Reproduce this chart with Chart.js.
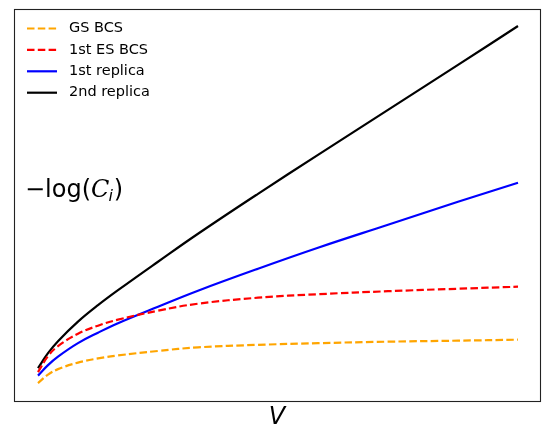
<!DOCTYPE html>
<html>
<head>
<meta charset="utf-8">
<script src="https://cdn.jsdelivr.net/npm/chart.js@4.4.1/dist/chart.umd.min.js"></script>
<style>
  html, body { margin: 0; padding: 0; background: #fff; }
  #wrap { width: 549px; height: 429px; position: relative; }
</style>
</head>
<body>
<div id="wrap"><canvas id="entropyChart" width="549" height="429"></canvas></div>
<script>
// ── Data ──
const volumes   = [2, 3, 4, 6, 8, 10, 14, 18, 24, 30, 37, 44, 50];
const gsBcs     = [1.75, 2.6, 3.15, 3.8, 4.22, 4.52, 4.97, 5.33, 5.58, 5.75, 5.9, 6.0, 6.1];
const es1Bcs    = [2.85, 4.45, 5.45, 6.7, 7.5, 8.1, 9.0, 9.7, 10.3, 10.65, 10.95, 11.2, 11.4];
const replica1  = [2.5, 3.55, 4.4, 5.75, 6.8, 7.75, 9.4, 11.0, 13.2, 15.3, 17.6, 19.9, 21.8];
const replica2  = [3.25, 4.75, 5.95, 7.9, 9.55, 11.05, 13.9, 16.7, 20.7, 24.6, 29.1, 33.6, 37.5];
const seriesLabels = ["GS BCS", "1st ES BCS", "1st replica", "2nd replica"];

const FONT = "'DejaVu Sans', sans-serif";
const DASH = [7.5, 3.3];

function series(label, values, color, dashed) {
  return {
    label,
    data: volumes.map((v, i) => ({ x: v, y: values[i] })),
    borderColor: color,
    borderWidth: 2.2,
    borderDash: dashed ? DASH : [],
    pointRadius: 0,
    tension: 0.4,
    fill: false,
  };
}

// ── Frame, axis titles and in-plot legend ──
const decorations = {
  id: "decorations",
  afterDraw(chart) {
    const { ctx, chartArea: a } = chart;
    ctx.save();
    ctx.strokeStyle = "#222";
    ctx.lineWidth = 1.1;
    ctx.strokeRect(a.left + 0.5, a.top + 0.5, a.right - a.left, a.bottom - a.top);

    // legend
    ctx.textBaseline = "middle";
    ctx.font = `14.5px ${FONT}`;
    chart.data.datasets.forEach((ds, i) => {
      const y = 28.5 + i * 21.4;
      ctx.beginPath();
      ctx.setLineDash(ds.borderDash);
      ctx.strokeStyle = ds.borderColor;
      ctx.lineWidth = ds.borderWidth;
      ctx.moveTo(27, y);
      ctx.lineTo(57, y);
      ctx.stroke();
      ctx.setLineDash([]);
      ctx.fillStyle = "#000";
      ctx.fillText(ds.label, 69, y);
    });

    // y title inside the plot
    ctx.fillStyle = "#000";
    ctx.font = `24px ${FONT}`;
    let x = 25;
    const yMid = 191;
    ctx.fillText("\u2212log(", x, yMid);
    x += ctx.measureText("\u2212log(").width;
    ctx.font = `italic 24px 'DejaVu Serif', serif`;
    ctx.fillText("C", x, yMid);
    x += ctx.measureText("C").width;
    ctx.font = `italic 16px ${FONT}`;
    ctx.fillText("i", x - 1, yMid + 6);
    x += ctx.measureText("i").width;
    ctx.font = `24px ${FONT}`;
    ctx.fillText(")", x, yMid);

    // x title
    ctx.font = `italic 24px ${FONT}`;
    ctx.textAlign = "center";
    ctx.fillText("V", 277, 418);
    ctx.restore();
  }
};

new Chart(document.getElementById("entropyChart"), {
  type: "line",
  data: {
    datasets: [
      series(seriesLabels[0], gsBcs, "#ffa500", true),
      series(seriesLabels[1], es1Bcs, "#ff0000", true),
      series(seriesLabels[2], replica1, "#0000ff", false),
      series(seriesLabels[3], replica2, "#000000", false),
    ]
  },
  options: {
    responsive: false,
    animation: false,
    devicePixelRatio: 1,
    layout: { padding: { left: 14, top: 9, right: 9, bottom: 28 } },
    plugins: { legend: { display: false }, tooltip: { enabled: false } },
    scales: {
      x: { type: "linear", display: false, min: -0.4, max: 52.2 },
      y: { type: "linear", display: false, min: -0.04, max: 39.2 }
    }
  },
  plugins: [decorations]
});
</script>
</body>
</html>
